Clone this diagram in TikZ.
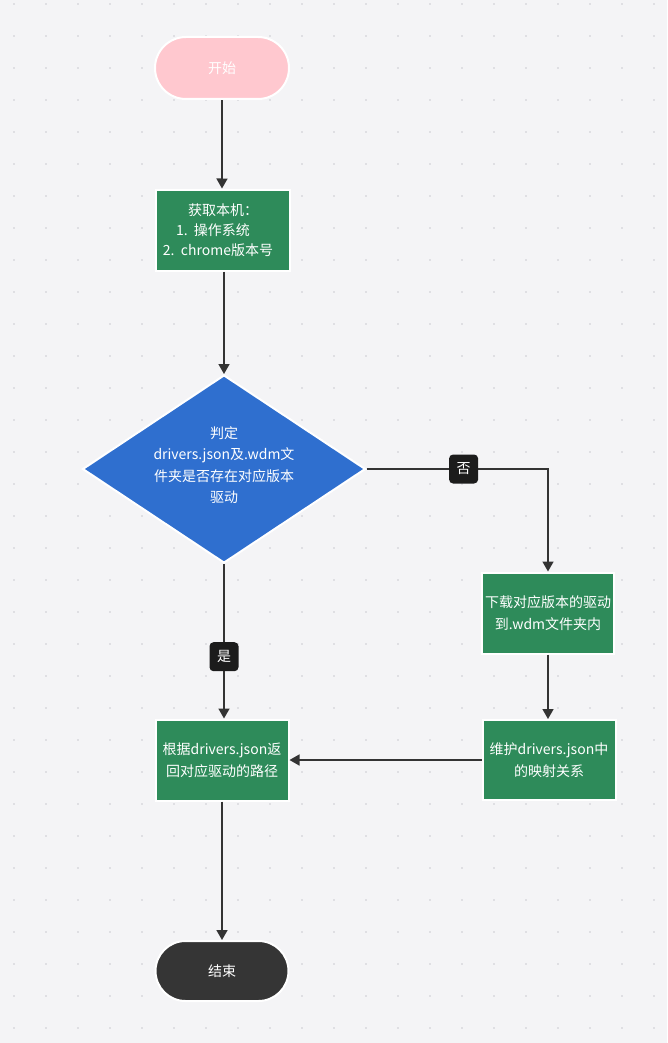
\documentclass[tikz,border=0pt]{standalone}
\usepackage{fontspec}
\setmainfont{Noto Sans CJK SC}
\usetikzlibrary{arrows.meta,shapes.geometric,shapes.misc}
\definecolor{bgc}{HTML}{F4F4F6}
\definecolor{dotc}{HTML}{CBCBD0}
\definecolor{pinkc}{HTML}{FFC8CF}
\definecolor{greenc}{HTML}{2E8B5A}
\definecolor{bluec}{HTML}{2F6FCF}
\definecolor{darkc}{HTML}{353535}
\definecolor{linec}{HTML}{333333}
\definecolor{labc}{HTML}{1C1C1C}
\begin{document}
\begin{tikzpicture}[x=1pt,y=-1pt,
  every node/.style={font=\fontsize{14}{21.5}\selectfont, text=white},
  pill/.style={rounded rectangle, draw=white, line width=2pt, minimum width=134pt, minimum height=62pt, inner sep=0pt},
  procbox/.style={rectangle, draw=white, line width=2pt, fill=greenc, minimum width=134pt, minimum height=81pt, inner sep=0pt, align=center},
  decision/.style={diamond, draw=white, line width=2pt, fill=bluec, minimum width=283pt, minimum height=188pt, inner sep=0pt},
  arr/.style={draw=linec, line width=1.6pt, -{Triangle[length=10pt,width=11pt]}},
  lab/.style={fill=labc, rounded corners=4pt, minimum width=29pt, minimum height=29pt, inner sep=0pt}
]
\useasboundingbox (0,0) rectangle (667,1043);
\fill[bgc] (0,0) rectangle (667,1043);
\foreach \i in {0,...,20} {
  \foreach \j in {0,...,32} {
    \fill[dotc] (14+32*\i, 4+32*\j) circle (0.9pt);
  }
}
\node[pill, fill=pinkc] (start) at (222,68) {开始};
\node[procbox] (get) at (223,230) {获取本机：\\[-1.5pt]\hspace*{-20pt}1.\ \ 操作系统\\[-1.5pt]\hspace*{-10pt}2.\ \ chrome版本号};
\node[decision] (dec) at (224,469) {};
\node[align=center, inner sep=0pt] (dectext) at (224,465) {判定\\drivers.json及.wdm文\\件夹是否存在对应版本\\驱动};
\node[procbox, minimum width=132pt] (down) at (548,613) {下载对应版本的驱动\\到.wdm文件夹内};
\node[procbox, minimum width=133pt, minimum height=80pt] (maint) at (549,760) {维护drivers.json中\\的映射关系};
\node[procbox, minimum width=133pt] (ret) at (222,760) {根据drivers.json返\\回对应驱动的路径};
\node[pill, fill=darkc, minimum width=133pt, minimum height=60pt] (end) at (222,971) {结束};

\draw[arr] (start) -- (start |- get.north);
\draw[arr] (get.south -| dec.north) -- (dec.north);
\draw[arr] (dec.east) -- node[lab, pos=0.535] (no) {否} (down.north |- dec.east) -- (down.north);
\draw[arr] (dec.south) -- node[lab, pos=0.6] (yes) {是} (dec.south |- ret.north);
\draw[arr] (down) -- (down.south |- maint.north);
\draw[arr] (maint) -- (ret);
\draw[arr] (ret) -- (ret.south |- end.north);
\end{tikzpicture}
\end{document}
